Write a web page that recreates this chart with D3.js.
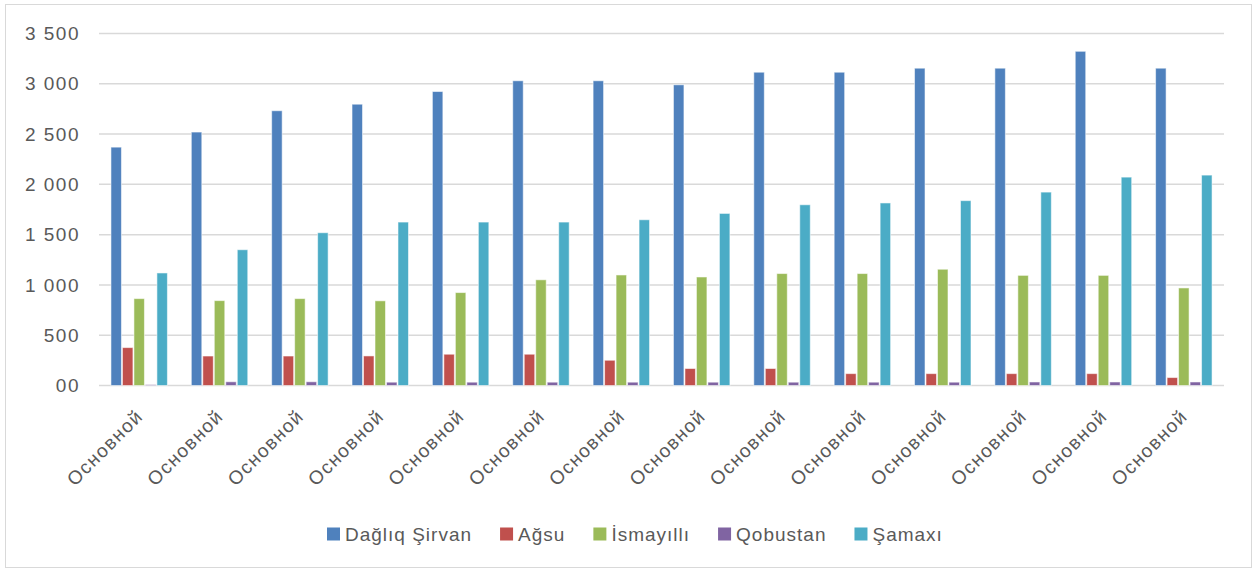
<!DOCTYPE html>
<html>
<head>
<meta charset="utf-8">
<script src="https://cdn.jsdelivr.net/npm/d3@7"></script>
<style>
  html, body { margin: 0; padding: 0; background: #fff; }
  svg { display: block; }
  text { font-family: "Liberation Sans", Arial, sans-serif; fill: #595959; }
</style>
</head>
<body>
<svg id="chart" width="1254" height="569"></svg>
<script>
const categories = ["Основной","Основной","Основной","Основной","Основной","Основной","Основной",
                    "Основной","Основной","Основной","Основной","Основной","Основной","Основной"];
const seriesNames = ["Dağlıq Şirvan", "Ağsu", "İsmayıllı", "Qobustan", "Şamaxı"];
const dagliqSirvan = [2370, 2520, 2732, 2797, 2923, 3030, 3030, 2990, 3115, 3115, 3155, 3155, 3323, 3155];
const agsu         = [377, 293, 293, 294, 311, 311, 251, 169, 169, 118, 118, 118, 118, 79];
const ismayilli    = [864, 844, 864, 842, 924, 1051, 1099, 1079, 1113, 1113, 1156, 1095, 1095, 970];
const qobustan     = [8, 37, 37, 33, 33, 33, 33, 33, 33, 33, 33, 35, 35, 35];
const samaxi       = [1119, 1350, 1519, 1625, 1625, 1625, 1648, 1711, 1797, 1815, 1838, 1923, 2072, 2092];
const yTicks = [0, 500, 1000, 1500, 2000, 2500, 3000, 3500];
const yTickLabels = ["00", "500", "1 000", "1 500", "2 000", "2 500", "3 000", "3 500"];
const colors = ["#4F81BD", "#C0504D", "#9BBB59", "#8064A2", "#4BACC6"];

const series = [dagliqSirvan, agsu, ismayilli, qobustan, samaxi];

const svg = d3.select("#chart");
const plotLeft = 99, plotRight = 1224, plotTop = 33.5, plotBottom = 385.5;

// outer border
svg.append("rect").attr("x", 5.5).attr("y", 4.5).attr("width", 1246).attr("height", 563)
  .attr("fill", "#fff").attr("stroke", "#D9D9D9").attr("stroke-width", 1);

const y = d3.scaleLinear().domain([0, 3500]).range([plotBottom, plotTop]);
const x0 = d3.scaleBand().domain(d3.range(categories.length)).range([plotLeft, plotRight])
  .paddingInner(0.285).paddingOuter(0.1425);
const x1 = d3.scaleBand().domain(d3.range(series.length)).range([0, x0.bandwidth()]).padding(0);

// gridlines
svg.append("g").selectAll("line").data(yTicks).join("line")
  .attr("x1", plotLeft).attr("x2", plotRight)
  .attr("y1", d => y(d)).attr("y2", d => y(d))
  .attr("stroke", "#D9D9D9").attr("stroke-width", 1.5);

// y axis labels
const yAxis = d3.axisLeft(y).tickValues(yTicks).tickSize(0).tickPadding(0)
  .tickFormat((d, i) => yTickLabels[i]);
const gy = svg.append("g").attr("transform", `translate(${80},0)`).call(yAxis);
gy.select(".domain").remove();
gy.selectAll("text").style("font-size", "19px").style("letter-spacing", "1.5px")
  .attr("fill", "#595959").style("font-family", "'Liberation Sans', Arial, sans-serif");

// bars
const groups = svg.append("g").selectAll("g").data(categories.map((c, i) => i)).join("g")
  .attr("transform", i => `translate(${x0(i)},0)`);
groups.selectAll("rect").data(i => series.map((s, k) => ({k, v: s[i]}))).join("rect")
  .attr("x", d => x1(d.k) + 0.5)
  .attr("width", x1.bandwidth() - 1)
  .attr("y", d => y(d.v))
  .attr("height", d => y(0) - y(d.v))
  .attr("fill", d => colors[d.k])
  .attr("stroke", "rgba(255,255,255,0.55)")
  .attr("stroke-width", 1);

// x axis labels
const xAxis = d3.axisBottom(x0).tickSize(0).tickPadding(0).tickFormat(i => categories[i]);
const gx = svg.append("g").attr("transform", `translate(0,${plotBottom})`).call(xAxis);
gx.select(".domain").remove();
gx.selectAll("text")
  .style("font-size", "19px").style("letter-spacing", "1.4px")
  .attr("fill", "#595959").style("font-family", "'Liberation Sans', Arial, sans-serif")
  .attr("text-anchor", "end")
  .attr("dy", "0")
  .attr("transform", "translate(5,32) rotate(-45)");

// legend
const legend = svg.append("g").attr("transform", "translate(327,534)");
let lx = 0;
seriesNames.forEach((name, k) => {
  const g = legend.append("g").attr("transform", `translate(${lx},0)`);
  g.append("rect").attr("x", 0).attr("y", -6.5).attr("width", 13).attr("height", 13).attr("fill", colors[k]);
  const t = g.append("text").attr("x", 18).attr("y", 0).attr("dy", "0.35em")
    .style("font-size", "19px").style("letter-spacing", "1px").text(name);
  const w = t.node().getComputedTextLength();
  lx += 18 + w + 28;
});
</script>
</body>
</html>
